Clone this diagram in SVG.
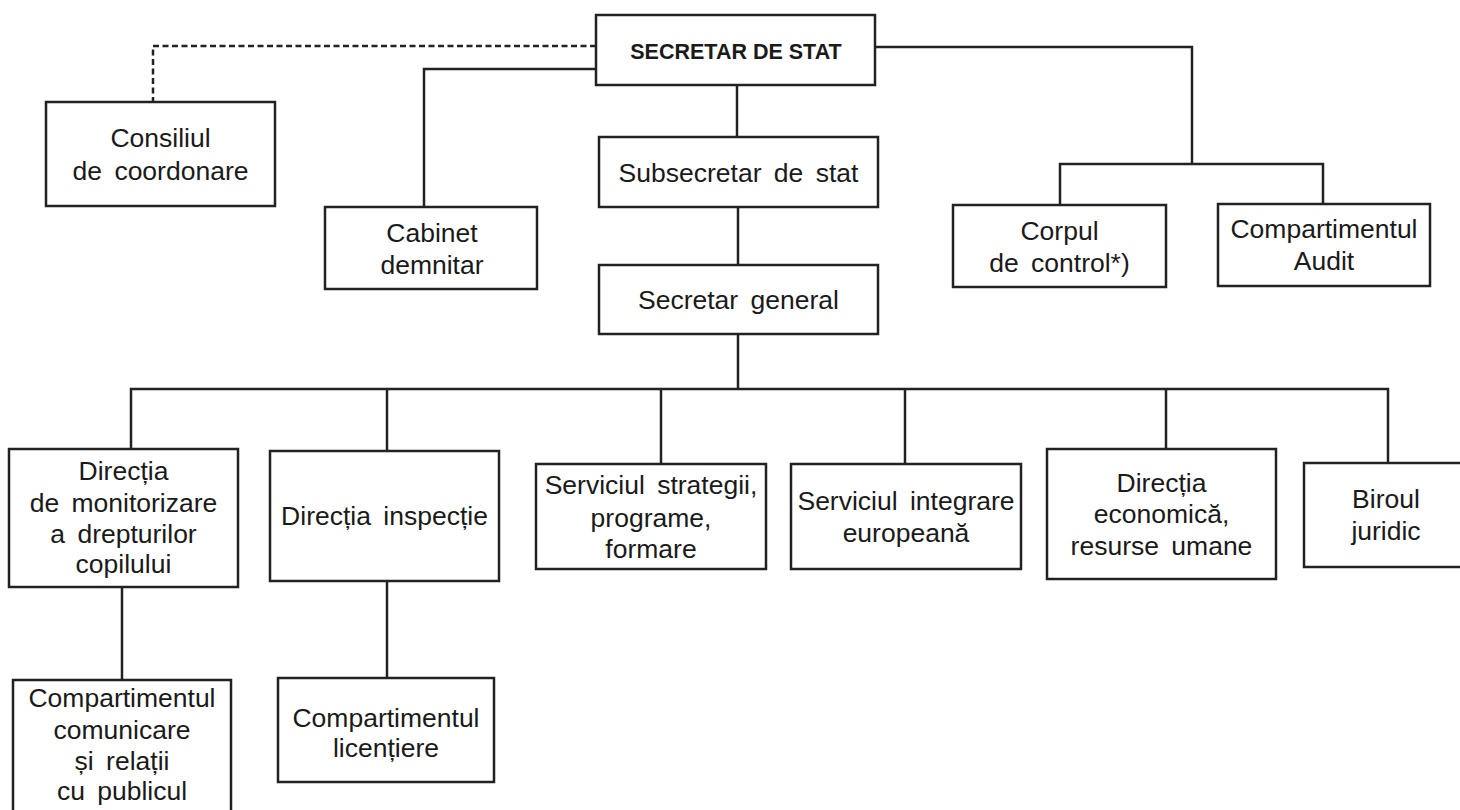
<svg xmlns="http://www.w3.org/2000/svg" width="1460" height="810" viewBox="0 0 1460 810">
<style>
.box{fill:#fff;stroke:#222;stroke-width:2.5}
.ln{fill:none;stroke:#222;stroke-width:2.5}
.dash{stroke-dasharray:6 3.5}
text{font-family:"Liberation Sans",Arial,sans-serif;font-size:26.5px;fill:#1a1a1a;text-anchor:middle;word-spacing:5px}
.b{font-weight:bold;font-size:21.5px;word-spacing:0}
</style>
<rect width="1460" height="810" fill="#fff"/>
<g id="connectors">
<path class="ln dash" d="M596 46 H153 V102"/>
<path class="ln" d="M596 69 H424 V207"/>
<path class="ln" d="M875 47 H1192 V164"/>
<path class="ln" d="M1060 205 V164 H1323 V204"/>
<path class="ln" d="M737 85 V137"/>
<path class="ln" d="M738 207 V265"/>
<path class="ln" d="M738 334 V389"/>
<path class="ln" d="M131 449 V389 H1388 V463"/>
<path class="ln" d="M387 389 V451"/>
<path class="ln" d="M661 389 V464"/>
<path class="ln" d="M905 389 V464"/>
<path class="ln" d="M1166 389 V449"/>
<path class="ln" d="M122 587 V680"/>
<path class="ln" d="M387 581 V678"/>
</g>
<g id="secretar-stat">
<rect class="box" x="596" y="15" width="279" height="70"/>
<text class="b" x="736" y="59">SECRETAR DE STAT</text>
</g>
<g id="consiliul">
<rect class="box" x="46" y="102" width="229" height="104"/>
<text x="160.5" y="147">Consiliul</text>
<text x="160.5" y="180">de coordonare</text>
</g>
<g id="cabinet">
<rect class="box" x="325" y="207" width="212" height="82"/>
<text x="432" y="242">Cabinet</text>
<text x="432" y="274">demnitar</text>
</g>
<g id="subsecretar">
<rect class="box" x="599" y="137" width="279" height="70"/>
<text x="738.5" y="182">Subsecretar de stat</text>
</g>
<g id="secretar-general">
<rect class="box" x="599" y="265" width="279" height="69"/>
<text x="738.5" y="309">Secretar general</text>
</g>
<g id="corpul">
<rect class="box" x="953" y="205" width="213" height="82"/>
<text x="1059.5" y="240">Corpul</text>
<text x="1059.5" y="272">de control*)</text>
</g>
<g id="audit">
<rect class="box" x="1218" y="204" width="212" height="82"/>
<text x="1324" y="238">Compartimentul</text>
<text x="1324" y="270">Audit</text>
</g>
<g id="directia-monitorizare">
<rect class="box" x="9" y="449" width="229" height="138"/>
<text x="123.5" y="480">Direcția</text>
<text x="123.5" y="512">de monitorizare</text>
<text x="123.5" y="543">a drepturilor</text>
<text x="123.5" y="573">copilului</text>
</g>
<g id="directia-inspectie">
<rect class="box" x="270" y="451" width="229" height="130"/>
<text x="384.5" y="525">Direcția inspecție</text>
</g>
<g id="serviciul-strategii">
<rect class="box" x="536" y="464" width="230" height="105"/>
<text x="651" y="494">Serviciul strategii,</text>
<text x="651" y="527">programe,</text>
<text x="651" y="558">formare</text>
</g>
<g id="serviciul-integrare">
<rect class="box" x="791" y="464" width="230" height="105"/>
<text x="906" y="510">Serviciul integrare</text>
<text x="906" y="542">europeană</text>
</g>
<g id="directia-economica">
<rect class="box" x="1047" y="449" width="229" height="130"/>
<text x="1161.5" y="492">Direcția</text>
<text x="1161.5" y="523">economică,</text>
<text x="1161.5" y="555">resurse umane</text>
</g>
<g id="biroul-juridic">
<rect class="box" x="1304" y="463" width="170" height="104"/>
<text x="1386" y="508">Biroul</text>
<text x="1386" y="540">juridic</text>
</g>
<g id="compartimentul-comunicare">
<rect class="box" x="13" y="680" width="218" height="140"/>
<text x="122" y="707">Compartimentul</text>
<text x="122" y="739">comunicare</text>
<text x="122" y="770">și relații</text>
<text x="122" y="800">cu publicul</text>
</g>
<g id="compartimentul-licentiere">
<rect class="box" x="278" y="678" width="216" height="104"/>
<text x="386" y="727">Compartimentul</text>
<text x="386" y="757">licențiere</text>
</g>
</svg>
